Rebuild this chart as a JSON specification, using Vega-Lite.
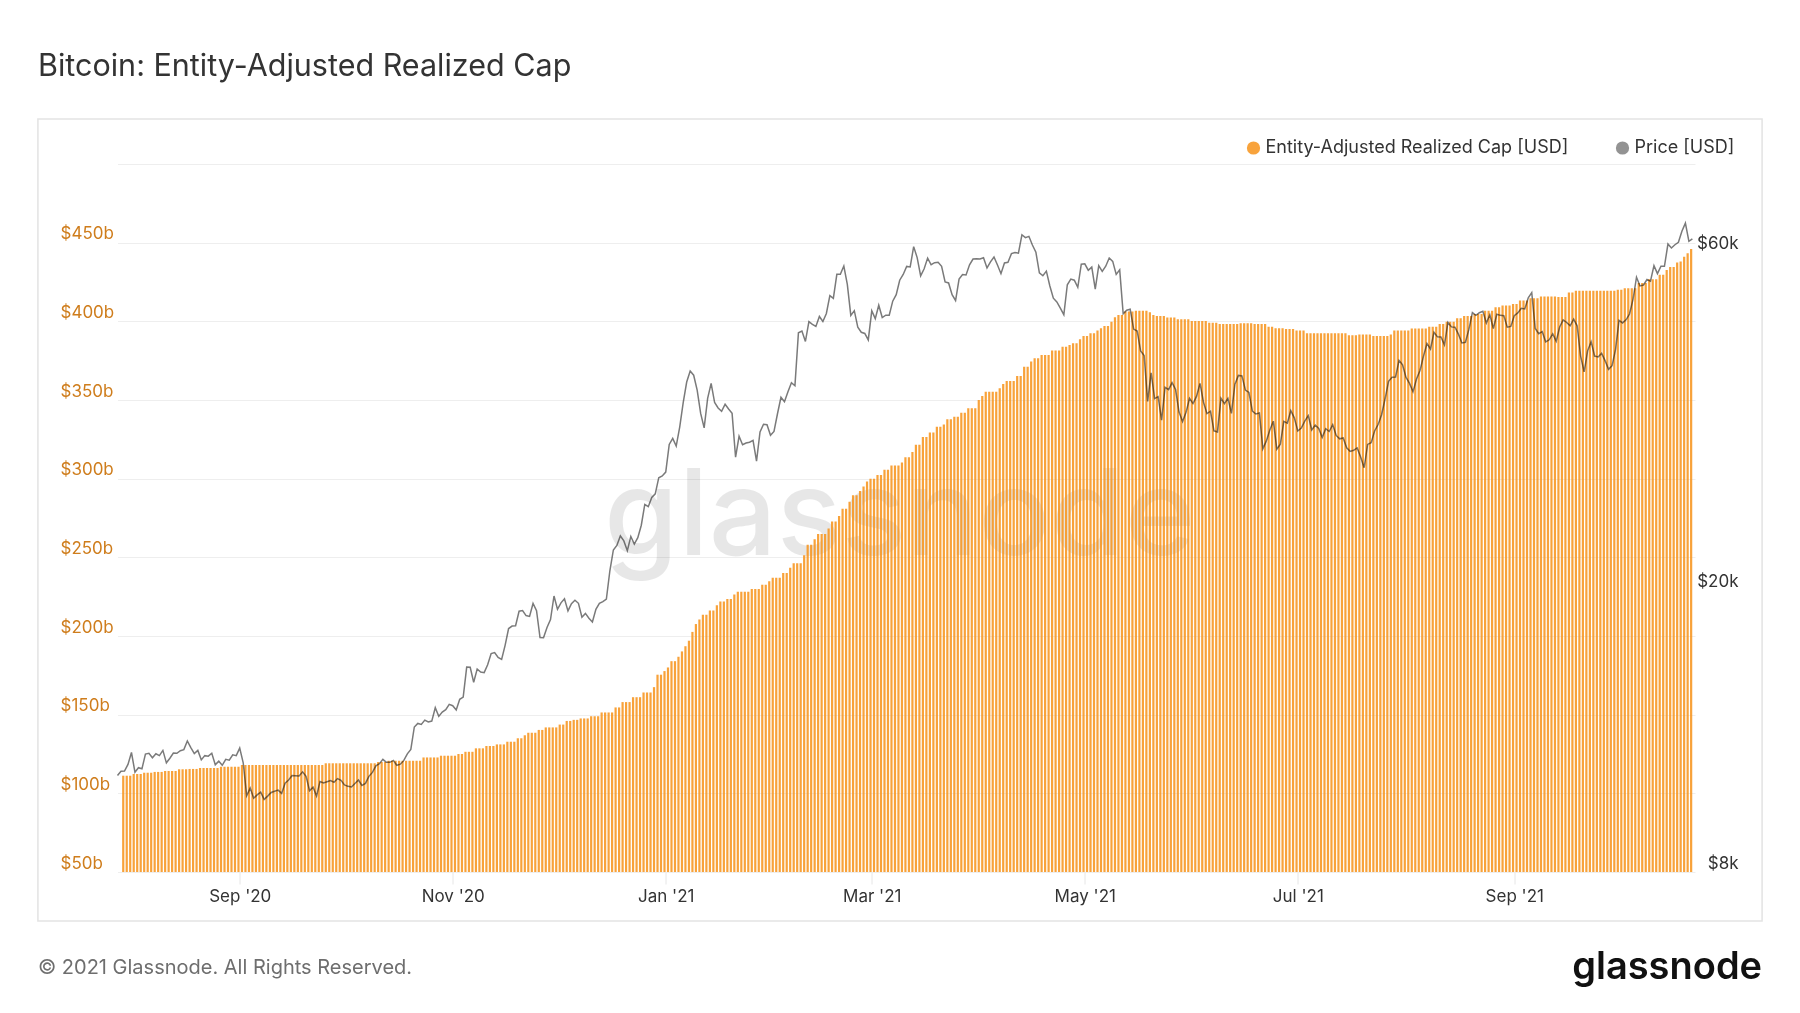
{
  "$schema": "https://vega.github.io/schema/vega-lite/v6.json",
  "autosize": {"type": "none"},
  "width": 1577.5,
  "height": 708,
  "padding": {"left": 117.5, "top": 164, "right": 105, "bottom": 141},
  "background": "white",
  "title": {
    "text": "Bitcoin: Entity-Adjusted Realized Cap",
    "anchor": "start",
    "frame": "group",
    "dx": -79.5,
    "offset": 12,
    "baseline": "alphabetic",
    "font": "Inter",
    "fontSize": 30.5,
    "fontWeight": 400,
    "color": "#333333"
  },
  "data": {
    "values": [
      {"date": "2020-07-28", "cap": null, "price": 10950},
      {"date": "2020-07-29", "cap": 111.2, "price": 11100},
      {"date": "2020-07-30", "cap": 111.2, "price": 11110},
      {"date": "2020-07-31", "cap": 111.2, "price": 11350},
      {"date": "2020-08-01", "cap": 112.3, "price": 11800},
      {"date": "2020-08-02", "cap": 112.3, "price": 11070},
      {"date": "2020-08-03", "cap": 112.3, "price": 11230},
      {"date": "2020-08-04", "cap": 113.1, "price": 11190},
      {"date": "2020-08-05", "cap": 113.1, "price": 11740},
      {"date": "2020-08-06", "cap": 113.1, "price": 11770},
      {"date": "2020-08-07", "cap": 113.6, "price": 11600},
      {"date": "2020-08-08", "cap": 113.6, "price": 11750},
      {"date": "2020-08-09", "cap": 113.6, "price": 11680},
      {"date": "2020-08-10", "cap": 114.2, "price": 11880},
      {"date": "2020-08-11", "cap": 114.2, "price": 11410},
      {"date": "2020-08-12", "cap": 114.2, "price": 11580},
      {"date": "2020-08-13", "cap": 114.2, "price": 11780},
      {"date": "2020-08-14", "cap": 115.3, "price": 11770},
      {"date": "2020-08-15", "cap": 115.3, "price": 11870},
      {"date": "2020-08-16", "cap": 115.3, "price": 11910},
      {"date": "2020-08-17", "cap": 115.5, "price": 12250},
      {"date": "2020-08-18", "cap": 115.5, "price": 11990},
      {"date": "2020-08-19", "cap": 115.5, "price": 11760},
      {"date": "2020-08-20", "cap": 116.1, "price": 11880},
      {"date": "2020-08-21", "cap": 116.1, "price": 11520},
      {"date": "2020-08-22", "cap": 116.1, "price": 11680},
      {"date": "2020-08-23", "cap": 116.1, "price": 11660},
      {"date": "2020-08-24", "cap": 116.1, "price": 11770},
      {"date": "2020-08-25", "cap": 116.1, "price": 11340},
      {"date": "2020-08-26", "cap": 116.9, "price": 11470},
      {"date": "2020-08-27", "cap": 116.9, "price": 11320},
      {"date": "2020-08-28", "cap": 116.9, "price": 11540},
      {"date": "2020-08-29", "cap": 116.9, "price": 11510},
      {"date": "2020-08-30", "cap": 116.9, "price": 11710},
      {"date": "2020-08-31", "cap": 116.9, "price": 11680},
      {"date": "2020-09-01", "cap": 118.0, "price": 11970},
      {"date": "2020-09-02", "cap": 118.0, "price": 11410},
      {"date": "2020-09-03", "cap": 118.0, "price": 10250},
      {"date": "2020-09-04", "cap": 118.0, "price": 10510},
      {"date": "2020-09-05", "cap": 118.0, "price": 10170},
      {"date": "2020-09-06", "cap": 118.0, "price": 10280},
      {"date": "2020-09-07", "cap": 118.0, "price": 10370},
      {"date": "2020-09-08", "cap": 118.0, "price": 10130},
      {"date": "2020-09-09", "cap": 118.0, "price": 10240},
      {"date": "2020-09-10", "cap": 118.0, "price": 10360},
      {"date": "2020-09-11", "cap": 118.0, "price": 10400},
      {"date": "2020-09-12", "cap": 118.0, "price": 10440},
      {"date": "2020-09-13", "cap": 118.0, "price": 10330},
      {"date": "2020-09-14", "cap": 118.0, "price": 10680},
      {"date": "2020-09-15", "cap": 118.0, "price": 10790},
      {"date": "2020-09-16", "cap": 118.0, "price": 10950},
      {"date": "2020-09-17", "cap": 118.0, "price": 10940},
      {"date": "2020-09-18", "cap": 118.0, "price": 10930},
      {"date": "2020-09-19", "cap": 118.0, "price": 11080},
      {"date": "2020-09-20", "cap": 118.0, "price": 10920},
      {"date": "2020-09-21", "cap": 118.0, "price": 10420},
      {"date": "2020-09-22", "cap": 118.0, "price": 10540},
      {"date": "2020-09-23", "cap": 118.0, "price": 10240},
      {"date": "2020-09-24", "cap": 118.0, "price": 10740},
      {"date": "2020-09-25", "cap": 119.1, "price": 10690},
      {"date": "2020-09-26", "cap": 119.1, "price": 10730},
      {"date": "2020-09-27", "cap": 119.1, "price": 10770},
      {"date": "2020-09-28", "cap": 119.1, "price": 10710},
      {"date": "2020-09-29", "cap": 119.1, "price": 10840},
      {"date": "2020-09-30", "cap": 119.1, "price": 10780},
      {"date": "2020-10-01", "cap": 119.1, "price": 10620},
      {"date": "2020-10-02", "cap": 119.1, "price": 10570},
      {"date": "2020-10-03", "cap": 119.1, "price": 10550},
      {"date": "2020-10-04", "cap": 119.1, "price": 10670},
      {"date": "2020-10-05", "cap": 119.1, "price": 10790},
      {"date": "2020-10-06", "cap": 119.1, "price": 10600},
      {"date": "2020-10-07", "cap": 119.1, "price": 10670},
      {"date": "2020-10-08", "cap": 119.1, "price": 10920},
      {"date": "2020-10-09", "cap": 119.1, "price": 11060},
      {"date": "2020-10-10", "cap": 119.9, "price": 11300},
      {"date": "2020-10-11", "cap": 119.9, "price": 11380},
      {"date": "2020-10-12", "cap": 119.9, "price": 11540},
      {"date": "2020-10-13", "cap": 120.7, "price": 11430},
      {"date": "2020-10-14", "cap": 120.7, "price": 11430},
      {"date": "2020-10-15", "cap": 120.7, "price": 11500},
      {"date": "2020-10-16", "cap": 120.7, "price": 11320},
      {"date": "2020-10-17", "cap": 120.7, "price": 11360},
      {"date": "2020-10-18", "cap": 120.7, "price": 11500},
      {"date": "2020-10-19", "cap": 120.7, "price": 11750},
      {"date": "2020-10-20", "cap": 120.7, "price": 11920},
      {"date": "2020-10-21", "cap": 120.7, "price": 12820},
      {"date": "2020-10-22", "cap": 120.7, "price": 12970},
      {"date": "2020-10-23", "cap": 122.8, "price": 12930},
      {"date": "2020-10-24", "cap": 122.8, "price": 13110},
      {"date": "2020-10-25", "cap": 122.8, "price": 13030},
      {"date": "2020-10-26", "cap": 122.8, "price": 13070},
      {"date": "2020-10-27", "cap": 122.8, "price": 13650},
      {"date": "2020-10-28", "cap": 123.9, "price": 13270},
      {"date": "2020-10-29", "cap": 123.9, "price": 13460},
      {"date": "2020-10-30", "cap": 123.9, "price": 13560},
      {"date": "2020-10-31", "cap": 123.9, "price": 13800},
      {"date": "2020-11-01", "cap": 123.9, "price": 13740},
      {"date": "2020-11-02", "cap": 125.0, "price": 13550},
      {"date": "2020-11-03", "cap": 125.0, "price": 14030},
      {"date": "2020-11-04", "cap": 126.4, "price": 14130},
      {"date": "2020-11-05", "cap": 126.4, "price": 15580},
      {"date": "2020-11-06", "cap": 126.4, "price": 15570},
      {"date": "2020-11-07", "cap": 128.6, "price": 14830},
      {"date": "2020-11-08", "cap": 128.6, "price": 15480},
      {"date": "2020-11-09", "cap": 128.6, "price": 15330},
      {"date": "2020-11-10", "cap": 130.1, "price": 15300},
      {"date": "2020-11-11", "cap": 130.1, "price": 15700},
      {"date": "2020-11-12", "cap": 130.1, "price": 16280},
      {"date": "2020-11-13", "cap": 131.1, "price": 16330},
      {"date": "2020-11-14", "cap": 131.1, "price": 16070},
      {"date": "2020-11-15", "cap": 131.1, "price": 15970},
      {"date": "2020-11-16", "cap": 132.8, "price": 16720},
      {"date": "2020-11-17", "cap": 132.8, "price": 17660},
      {"date": "2020-11-18", "cap": 132.8, "price": 17800},
      {"date": "2020-11-19", "cap": 135.0, "price": 17820},
      {"date": "2020-11-20", "cap": 135.0, "price": 18680},
      {"date": "2020-11-21", "cap": 136.9, "price": 18720},
      {"date": "2020-11-22", "cap": 138.5, "price": 18420},
      {"date": "2020-11-23", "cap": 138.5, "price": 18370},
      {"date": "2020-11-24", "cap": 138.5, "price": 19160},
      {"date": "2020-11-25", "cap": 140.3, "price": 18720},
      {"date": "2020-11-26", "cap": 140.3, "price": 17150},
      {"date": "2020-11-27", "cap": 141.9, "price": 17140},
      {"date": "2020-11-28", "cap": 141.9, "price": 17720},
      {"date": "2020-11-29", "cap": 141.9, "price": 18180},
      {"date": "2020-11-30", "cap": 141.9, "price": 19630},
      {"date": "2020-12-01", "cap": 143.7, "price": 18800},
      {"date": "2020-12-02", "cap": 143.7, "price": 19200},
      {"date": "2020-12-03", "cap": 146.0, "price": 19450},
      {"date": "2020-12-04", "cap": 146.0, "price": 18700},
      {"date": "2020-12-05", "cap": 146.7, "price": 19150},
      {"date": "2020-12-06", "cap": 146.7, "price": 19360},
      {"date": "2020-12-07", "cap": 147.6, "price": 19170},
      {"date": "2020-12-08", "cap": 147.6, "price": 18320},
      {"date": "2020-12-09", "cap": 147.6, "price": 18550},
      {"date": "2020-12-10", "cap": 149.0, "price": 18260},
      {"date": "2020-12-11", "cap": 149.0, "price": 18040},
      {"date": "2020-12-12", "cap": 149.0, "price": 18800},
      {"date": "2020-12-13", "cap": 151.4, "price": 19170},
      {"date": "2020-12-14", "cap": 151.4, "price": 19270},
      {"date": "2020-12-15", "cap": 151.4, "price": 19430},
      {"date": "2020-12-16", "cap": 151.4, "price": 21310},
      {"date": "2020-12-17", "cap": 154.6, "price": 22800},
      {"date": "2020-12-18", "cap": 154.6, "price": 23140},
      {"date": "2020-12-19", "cap": 158.0, "price": 23870},
      {"date": "2020-12-20", "cap": 158.0, "price": 23480},
      {"date": "2020-12-21", "cap": 158.0, "price": 22750},
      {"date": "2020-12-22", "cap": 161.1, "price": 23820},
      {"date": "2020-12-23", "cap": 161.1, "price": 23240},
      {"date": "2020-12-24", "cap": 161.1, "price": 23730},
      {"date": "2020-12-25", "cap": 164.1, "price": 24710},
      {"date": "2020-12-26", "cap": 164.1, "price": 26440},
      {"date": "2020-12-27", "cap": 164.1, "price": 26250},
      {"date": "2020-12-28", "cap": 167.5, "price": 27040},
      {"date": "2020-12-29", "cap": 175.4, "price": 27370},
      {"date": "2020-12-30", "cap": 175.4, "price": 28840},
      {"date": "2020-12-31", "cap": 177.7, "price": 29000},
      {"date": "2021-01-01", "cap": 180.0, "price": 29370},
      {"date": "2021-01-02", "cap": 184.0, "price": 32130},
      {"date": "2021-01-03", "cap": 184.0, "price": 32780},
      {"date": "2021-01-04", "cap": 186.8, "price": 31970},
      {"date": "2021-01-05", "cap": 190.2, "price": 34000},
      {"date": "2021-01-06", "cap": 193.5, "price": 36820},
      {"date": "2021-01-07", "cap": 197.0, "price": 39370},
      {"date": "2021-01-08", "cap": 202.6, "price": 40800},
      {"date": "2021-01-09", "cap": 207.6, "price": 40250},
      {"date": "2021-01-10", "cap": 210.5, "price": 38350},
      {"date": "2021-01-11", "cap": 213.5, "price": 35540},
      {"date": "2021-01-12", "cap": 213.5, "price": 33920},
      {"date": "2021-01-13", "cap": 216.2, "price": 37320},
      {"date": "2021-01-14", "cap": 216.2, "price": 39190},
      {"date": "2021-01-15", "cap": 219.6, "price": 36830},
      {"date": "2021-01-16", "cap": 221.9, "price": 36180},
      {"date": "2021-01-17", "cap": 221.9, "price": 35790},
      {"date": "2021-01-18", "cap": 223.5, "price": 36630},
      {"date": "2021-01-19", "cap": 223.5, "price": 36070},
      {"date": "2021-01-20", "cap": 226.4, "price": 35550},
      {"date": "2021-01-21", "cap": 228.2, "price": 30830},
      {"date": "2021-01-22", "cap": 228.2, "price": 33000},
      {"date": "2021-01-23", "cap": 228.2, "price": 32100},
      {"date": "2021-01-24", "cap": 228.2, "price": 32290},
      {"date": "2021-01-25", "cap": 229.8, "price": 32370},
      {"date": "2021-01-26", "cap": 229.8, "price": 32570},
      {"date": "2021-01-27", "cap": 229.8, "price": 30430},
      {"date": "2021-01-28", "cap": 232.5, "price": 33470},
      {"date": "2021-01-29", "cap": 232.5, "price": 34320},
      {"date": "2021-01-30", "cap": 234.8, "price": 34270},
      {"date": "2021-01-31", "cap": 237.0, "price": 33110},
      {"date": "2021-02-01", "cap": 237.0, "price": 33520},
      {"date": "2021-02-02", "cap": 237.0, "price": 35510},
      {"date": "2021-02-03", "cap": 240.0, "price": 37470},
      {"date": "2021-02-04", "cap": 240.0, "price": 36930},
      {"date": "2021-02-05", "cap": 243.4, "price": 38140},
      {"date": "2021-02-06", "cap": 246.3, "price": 39270},
      {"date": "2021-02-07", "cap": 246.3, "price": 38900},
      {"date": "2021-02-08", "cap": 246.3, "price": 46200},
      {"date": "2021-02-09", "cap": 251.3, "price": 46480},
      {"date": "2021-02-10", "cap": 258.0, "price": 44920},
      {"date": "2021-02-11", "cap": 258.0, "price": 47910},
      {"date": "2021-02-12", "cap": 261.5, "price": 47500},
      {"date": "2021-02-13", "cap": 264.9, "price": 47170},
      {"date": "2021-02-14", "cap": 264.9, "price": 48720},
      {"date": "2021-02-15", "cap": 264.9, "price": 47940},
      {"date": "2021-02-16", "cap": 268.3, "price": 49200},
      {"date": "2021-02-17", "cap": 272.8, "price": 52150},
      {"date": "2021-02-18", "cap": 272.8, "price": 51680},
      {"date": "2021-02-19", "cap": 276.2, "price": 55890},
      {"date": "2021-02-20", "cap": 280.8, "price": 55890},
      {"date": "2021-02-21", "cap": 280.8, "price": 57410},
      {"date": "2021-02-22", "cap": 285.3, "price": 54090},
      {"date": "2021-02-23", "cap": 289.4, "price": 48890},
      {"date": "2021-02-24", "cap": 289.4, "price": 49650},
      {"date": "2021-02-25", "cap": 292.1, "price": 47050},
      {"date": "2021-02-26", "cap": 295.0, "price": 46280},
      {"date": "2021-02-27", "cap": 298.2, "price": 46110},
      {"date": "2021-02-28", "cap": 300.0, "price": 45140},
      {"date": "2021-03-01", "cap": 300.0, "price": 49630},
      {"date": "2021-03-02", "cap": 302.3, "price": 48380},
      {"date": "2021-03-03", "cap": 302.3, "price": 50540},
      {"date": "2021-03-04", "cap": 305.7, "price": 48560},
      {"date": "2021-03-05", "cap": 305.7, "price": 48930},
      {"date": "2021-03-06", "cap": 308.4, "price": 48910},
      {"date": "2021-03-07", "cap": 308.4, "price": 51210},
      {"date": "2021-03-08", "cap": 308.4, "price": 52300},
      {"date": "2021-03-09", "cap": 310.2, "price": 54820},
      {"date": "2021-03-10", "cap": 313.6, "price": 55860},
      {"date": "2021-03-11", "cap": 313.6, "price": 57330},
      {"date": "2021-03-12", "cap": 317.0, "price": 57230},
      {"date": "2021-03-13", "cap": 321.5, "price": 61150},
      {"date": "2021-03-14", "cap": 321.5, "price": 59000},
      {"date": "2021-03-15", "cap": 326.5, "price": 55600},
      {"date": "2021-03-16", "cap": 326.5, "price": 56900},
      {"date": "2021-03-17", "cap": 329.4, "price": 58910},
      {"date": "2021-03-18", "cap": 329.4, "price": 57650},
      {"date": "2021-03-19", "cap": 333.0, "price": 58030},
      {"date": "2021-03-20", "cap": 333.0, "price": 58100},
      {"date": "2021-03-21", "cap": 334.5, "price": 57350},
      {"date": "2021-03-22", "cap": 337.7, "price": 54530},
      {"date": "2021-03-23", "cap": 337.7, "price": 54340},
      {"date": "2021-03-24", "cap": 339.4, "price": 52300},
      {"date": "2021-03-25", "cap": 339.4, "price": 51320},
      {"date": "2021-03-26", "cap": 341.9, "price": 55030},
      {"date": "2021-03-27", "cap": 341.9, "price": 55860},
      {"date": "2021-03-28", "cap": 344.7, "price": 55780},
      {"date": "2021-03-29", "cap": 344.7, "price": 57630},
      {"date": "2021-03-30", "cap": 344.7, "price": 58730},
      {"date": "2021-03-31", "cap": 350.0, "price": 58800},
      {"date": "2021-04-01", "cap": 352.6, "price": 58730},
      {"date": "2021-04-02", "cap": 355.3, "price": 58970},
      {"date": "2021-04-03", "cap": 355.3, "price": 57060},
      {"date": "2021-04-04", "cap": 355.3, "price": 58200},
      {"date": "2021-04-05", "cap": 355.3, "price": 59120},
      {"date": "2021-04-06", "cap": 357.5, "price": 57600},
      {"date": "2021-04-07", "cap": 360.2, "price": 56000},
      {"date": "2021-04-08", "cap": 362.1, "price": 57990},
      {"date": "2021-04-09", "cap": 362.1, "price": 58100},
      {"date": "2021-04-10", "cap": 362.1, "price": 59770},
      {"date": "2021-04-11", "cap": 365.3, "price": 60000},
      {"date": "2021-04-12", "cap": 365.3, "price": 59860},
      {"date": "2021-04-13", "cap": 371.2, "price": 63550},
      {"date": "2021-04-14", "cap": 371.2, "price": 62970},
      {"date": "2021-04-15", "cap": 374.4, "price": 63230},
      {"date": "2021-04-16", "cap": 376.5, "price": 61460},
      {"date": "2021-04-17", "cap": 376.5, "price": 60050},
      {"date": "2021-04-18", "cap": 378.6, "price": 56150},
      {"date": "2021-04-19", "cap": 378.6, "price": 55630},
      {"date": "2021-04-20", "cap": 378.6, "price": 56470},
      {"date": "2021-04-21", "cap": 381.4, "price": 53800},
      {"date": "2021-04-22", "cap": 381.4, "price": 51700},
      {"date": "2021-04-23", "cap": 381.4, "price": 51090},
      {"date": "2021-04-24", "cap": 383.9, "price": 50050},
      {"date": "2021-04-25", "cap": 383.9, "price": 49000},
      {"date": "2021-04-26", "cap": 385.0, "price": 54020},
      {"date": "2021-04-27", "cap": 386.0, "price": 55030},
      {"date": "2021-04-28", "cap": 386.0, "price": 54820},
      {"date": "2021-04-29", "cap": 388.6, "price": 53560},
      {"date": "2021-04-30", "cap": 390.7, "price": 57750},
      {"date": "2021-05-01", "cap": 390.7, "price": 57830},
      {"date": "2021-05-02", "cap": 392.4, "price": 56630},
      {"date": "2021-05-03", "cap": 392.4, "price": 57210},
      {"date": "2021-05-04", "cap": 394.1, "price": 53240},
      {"date": "2021-05-05", "cap": 395.6, "price": 57470},
      {"date": "2021-05-06", "cap": 397.0, "price": 56430},
      {"date": "2021-05-07", "cap": 397.0, "price": 57380},
      {"date": "2021-05-08", "cap": 399.8, "price": 58930},
      {"date": "2021-05-09", "cap": 402.6, "price": 58280},
      {"date": "2021-05-10", "cap": 404.1, "price": 55860},
      {"date": "2021-05-11", "cap": 404.1, "price": 56700},
      {"date": "2021-05-12", "cap": 406.2, "price": 49150},
      {"date": "2021-05-13", "cap": 406.2, "price": 49720},
      {"date": "2021-05-14", "cap": 406.2, "price": 49880},
      {"date": "2021-05-15", "cap": 406.8, "price": 46760},
      {"date": "2021-05-16", "cap": 406.8, "price": 46460},
      {"date": "2021-05-17", "cap": 406.8, "price": 43540},
      {"date": "2021-05-18", "cap": 406.8, "price": 42910},
      {"date": "2021-05-19", "cap": 405.8, "price": 36960},
      {"date": "2021-05-20", "cap": 404.1, "price": 40560},
      {"date": "2021-05-21", "cap": 403.4, "price": 37300},
      {"date": "2021-05-22", "cap": 403.4, "price": 37540},
      {"date": "2021-05-23", "cap": 403.4, "price": 34770},
      {"date": "2021-05-24", "cap": 402.4, "price": 38700},
      {"date": "2021-05-25", "cap": 402.4, "price": 38400},
      {"date": "2021-05-26", "cap": 402.4, "price": 39290},
      {"date": "2021-05-27", "cap": 401.3, "price": 38440},
      {"date": "2021-05-28", "cap": 401.3, "price": 35700},
      {"date": "2021-05-29", "cap": 401.3, "price": 34620},
      {"date": "2021-05-30", "cap": 401.3, "price": 35680},
      {"date": "2021-05-31", "cap": 400.2, "price": 37340},
      {"date": "2021-06-01", "cap": 400.2, "price": 36700},
      {"date": "2021-06-02", "cap": 400.2, "price": 37570},
      {"date": "2021-06-03", "cap": 400.2, "price": 39190},
      {"date": "2021-06-04", "cap": 400.2, "price": 36850},
      {"date": "2021-06-05", "cap": 399.1, "price": 35520},
      {"date": "2021-06-06", "cap": 399.1, "price": 35800},
      {"date": "2021-06-07", "cap": 399.1, "price": 33590},
      {"date": "2021-06-08", "cap": 398.3, "price": 33470},
      {"date": "2021-06-09", "cap": 398.3, "price": 37350},
      {"date": "2021-06-10", "cap": 398.3, "price": 36690},
      {"date": "2021-06-11", "cap": 398.3, "price": 37340},
      {"date": "2021-06-12", "cap": 398.3, "price": 35550},
      {"date": "2021-06-13", "cap": 398.3, "price": 39100},
      {"date": "2021-06-14", "cap": 398.8, "price": 40220},
      {"date": "2021-06-15", "cap": 398.8, "price": 40160},
      {"date": "2021-06-16", "cap": 398.8, "price": 38350},
      {"date": "2021-06-17", "cap": 398.8, "price": 38050},
      {"date": "2021-06-18", "cap": 398.3, "price": 35820},
      {"date": "2021-06-19", "cap": 398.3, "price": 35480},
      {"date": "2021-06-20", "cap": 398.3, "price": 35600},
      {"date": "2021-06-21", "cap": 398.3, "price": 31680},
      {"date": "2021-06-22", "cap": 396.6, "price": 32510},
      {"date": "2021-06-23", "cap": 396.6, "price": 33680},
      {"date": "2021-06-24", "cap": 395.6, "price": 34660},
      {"date": "2021-06-25", "cap": 395.6, "price": 31640},
      {"date": "2021-06-26", "cap": 395.6, "price": 32160},
      {"date": "2021-06-27", "cap": 395.2, "price": 34640},
      {"date": "2021-06-28", "cap": 395.2, "price": 34430},
      {"date": "2021-06-29", "cap": 395.2, "price": 35870},
      {"date": "2021-06-30", "cap": 394.1, "price": 35040},
      {"date": "2021-07-01", "cap": 394.1, "price": 33570},
      {"date": "2021-07-02", "cap": 394.1, "price": 33900},
      {"date": "2021-07-03", "cap": 392.4, "price": 34660},
      {"date": "2021-07-04", "cap": 392.4, "price": 35290},
      {"date": "2021-07-05", "cap": 392.4, "price": 33690},
      {"date": "2021-07-06", "cap": 392.4, "price": 34220},
      {"date": "2021-07-07", "cap": 392.4, "price": 33860},
      {"date": "2021-07-08", "cap": 392.4, "price": 32880},
      {"date": "2021-07-09", "cap": 392.4, "price": 33820},
      {"date": "2021-07-10", "cap": 392.4, "price": 33520},
      {"date": "2021-07-11", "cap": 392.4, "price": 34260},
      {"date": "2021-07-12", "cap": 392.4, "price": 33090},
      {"date": "2021-07-13", "cap": 392.4, "price": 32730},
      {"date": "2021-07-14", "cap": 392.4, "price": 32820},
      {"date": "2021-07-15", "cap": 391.1, "price": 31780},
      {"date": "2021-07-16", "cap": 391.1, "price": 31420},
      {"date": "2021-07-17", "cap": 391.1, "price": 31530},
      {"date": "2021-07-18", "cap": 391.7, "price": 31780},
      {"date": "2021-07-19", "cap": 391.7, "price": 30840},
      {"date": "2021-07-20", "cap": 391.7, "price": 29790},
      {"date": "2021-07-21", "cap": 391.7, "price": 32140},
      {"date": "2021-07-22", "cap": 390.7, "price": 32310},
      {"date": "2021-07-23", "cap": 390.7, "price": 33580},
      {"date": "2021-07-24", "cap": 390.7, "price": 34290},
      {"date": "2021-07-25", "cap": 390.7, "price": 35390},
      {"date": "2021-07-26", "cap": 390.7, "price": 37280},
      {"date": "2021-07-27", "cap": 391.7, "price": 39460},
      {"date": "2021-07-28", "cap": 394.1, "price": 39990},
      {"date": "2021-07-29", "cap": 394.1, "price": 40020},
      {"date": "2021-07-30", "cap": 394.1, "price": 42240},
      {"date": "2021-07-31", "cap": 394.1, "price": 41630},
      {"date": "2021-08-01", "cap": 394.1, "price": 39970},
      {"date": "2021-08-02", "cap": 395.4, "price": 39200},
      {"date": "2021-08-03", "cap": 395.4, "price": 38150},
      {"date": "2021-08-04", "cap": 395.4, "price": 39750},
      {"date": "2021-08-05", "cap": 395.4, "price": 40870},
      {"date": "2021-08-06", "cap": 395.4, "price": 42830},
      {"date": "2021-08-07", "cap": 396.6, "price": 44610},
      {"date": "2021-08-08", "cap": 396.6, "price": 43830},
      {"date": "2021-08-09", "cap": 396.6, "price": 46290},
      {"date": "2021-08-10", "cap": 398.3, "price": 45600},
      {"date": "2021-08-11", "cap": 398.3, "price": 45590},
      {"date": "2021-08-12", "cap": 399.8, "price": 44430},
      {"date": "2021-08-13", "cap": 399.8, "price": 47790},
      {"date": "2021-08-14", "cap": 399.8, "price": 47100},
      {"date": "2021-08-15", "cap": 401.9, "price": 47050},
      {"date": "2021-08-16", "cap": 401.9, "price": 46000},
      {"date": "2021-08-17", "cap": 403.4, "price": 44700},
      {"date": "2021-08-18", "cap": 403.4, "price": 44800},
      {"date": "2021-08-19", "cap": 403.4, "price": 46720},
      {"date": "2021-08-20", "cap": 404.7, "price": 49340},
      {"date": "2021-08-21", "cap": 404.7, "price": 48900},
      {"date": "2021-08-22", "cap": 404.7, "price": 49320},
      {"date": "2021-08-23", "cap": 406.8, "price": 49550},
      {"date": "2021-08-24", "cap": 406.8, "price": 47710},
      {"date": "2021-08-25", "cap": 406.8, "price": 48990},
      {"date": "2021-08-26", "cap": 409.0, "price": 46850},
      {"date": "2021-08-27", "cap": 409.0, "price": 49070},
      {"date": "2021-08-28", "cap": 410.0, "price": 48900},
      {"date": "2021-08-29", "cap": 410.0, "price": 48830},
      {"date": "2021-08-30", "cap": 410.0, "price": 47050},
      {"date": "2021-08-31", "cap": 411.0, "price": 47170},
      {"date": "2021-09-01", "cap": 411.0, "price": 48850},
      {"date": "2021-09-02", "cap": 413.2, "price": 49290},
      {"date": "2021-09-03", "cap": 413.2, "price": 50030},
      {"date": "2021-09-04", "cap": 413.2, "price": 49940},
      {"date": "2021-09-05", "cap": 414.7, "price": 51770},
      {"date": "2021-09-06", "cap": 414.7, "price": 52660},
      {"date": "2021-09-07", "cap": 414.7, "price": 46860},
      {"date": "2021-09-08", "cap": 415.8, "price": 46070},
      {"date": "2021-09-09", "cap": 415.8, "price": 46370},
      {"date": "2021-09-10", "cap": 415.8, "price": 44850},
      {"date": "2021-09-11", "cap": 415.8, "price": 45160},
      {"date": "2021-09-12", "cap": 415.8, "price": 46060},
      {"date": "2021-09-13", "cap": 415.4, "price": 44960},
      {"date": "2021-09-14", "cap": 415.4, "price": 47090},
      {"date": "2021-09-15", "cap": 415.4, "price": 48180},
      {"date": "2021-09-16", "cap": 418.3, "price": 47780},
      {"date": "2021-09-17", "cap": 418.3, "price": 47260},
      {"date": "2021-09-18", "cap": 419.4, "price": 48290},
      {"date": "2021-09-19", "cap": 419.4, "price": 47260},
      {"date": "2021-09-20", "cap": 419.4, "price": 42840},
      {"date": "2021-09-21", "cap": 419.4, "price": 40690},
      {"date": "2021-09-22", "cap": 419.4, "price": 43570},
      {"date": "2021-09-23", "cap": 419.4, "price": 44890},
      {"date": "2021-09-24", "cap": 419.4, "price": 42840},
      {"date": "2021-09-25", "cap": 419.4, "price": 42710},
      {"date": "2021-09-26", "cap": 419.4, "price": 43210},
      {"date": "2021-09-27", "cap": 419.4, "price": 42200},
      {"date": "2021-09-28", "cap": 419.4, "price": 41030},
      {"date": "2021-09-29", "cap": 419.4, "price": 41520},
      {"date": "2021-09-30", "cap": 420.0, "price": 43790},
      {"date": "2021-10-01", "cap": 420.0, "price": 48120},
      {"date": "2021-10-02", "cap": 421.1, "price": 47710},
      {"date": "2021-10-03", "cap": 421.1, "price": 48200},
      {"date": "2021-10-04", "cap": 421.1, "price": 49110},
      {"date": "2021-10-05", "cap": 421.1, "price": 51510},
      {"date": "2021-10-06", "cap": 424.3, "price": 55360},
      {"date": "2021-10-07", "cap": 424.3, "price": 53810},
      {"date": "2021-10-08", "cap": 424.3, "price": 53970},
      {"date": "2021-10-09", "cap": 426.8, "price": 54950},
      {"date": "2021-10-10", "cap": 426.8, "price": 54660},
      {"date": "2021-10-11", "cap": 426.8, "price": 57470},
      {"date": "2021-10-12", "cap": 429.6, "price": 56010},
      {"date": "2021-10-13", "cap": 429.6, "price": 57370},
      {"date": "2021-10-14", "cap": 432.7, "price": 57350},
      {"date": "2021-10-15", "cap": 434.5, "price": 61670},
      {"date": "2021-10-16", "cap": 434.5, "price": 60880},
      {"date": "2021-10-17", "cap": 437.4, "price": 61530},
      {"date": "2021-10-18", "cap": 438.0, "price": 62010},
      {"date": "2021-10-19", "cap": 441.1, "price": 64280},
      {"date": "2021-10-20", "cap": 443.2, "price": 66000},
      {"date": "2021-10-21", "cap": 445.9, "price": 62210},
      {"date": "2021-10-22", "cap": null, "price": 62700}
    ]
  },
  "layer": [
    {
      "layer": [
        {
          "data": {"values": [{"t": "frame"}]},
          "mark": {"type": "rect", "filled": false, "stroke": "#e3e3e3", "strokeWidth": 1.5},
          "encoding": {
            "x": {
              "datum": {"year": 2020, "month": 7, "date": 5, "hours": 5, "utc": true},
              "type": "temporal",
              "title": null,
              "scale": {"type": "utc", "domain": [{"year": 2020, "month": 7, "date": 28, "utc": true}, {"year": 2021, "month": 10, "date": 22, "hours": 18, "utc": true}]}
            },
            "x2": {"datum": {"year": 2021, "month": 11, "date": 10, "hours": 23, "utc": true}},
            "y": {"datum": 528.6, "type": "quantitative", "title": null, "scale": {"domain": [50, 500], "zero": false, "nice": false}},
            "y2": {"datum": 18.9}
          }
        },
        {
          "data": {"values": [{"t": "glassnode"}]},
          "mark": {"type": "text", "font": "Inter", "fontSize": 120, "fontWeight": 500, "fill": "#000000", "opacity": 0.09, "align": "center", "baseline": "alphabetic"},
          "encoding": {
            "x": {
              "datum": {"year": 2021, "month": 3, "date": 9, "utc": true},
              "type": "temporal",
              "title": null,
              "scale": {"type": "utc", "domain": [{"year": 2020, "month": 7, "date": 28, "utc": true}, {"year": 2021, "month": 10, "date": 22, "hours": 18, "utc": true}]}
            },
            "y": {"datum": 251.5, "type": "quantitative", "title": null, "scale": {"domain": [50, 500], "zero": false, "nice": false}},
            "text": {"field": "t"}
          }
        },
        {
          "mark": {"type": "bar", "opacity": 0.86, "width": {"band": 0.92}},
          "encoding": {
            "x": {
              "field": "date",
              "timeUnit": "utcyearmonthdate",
              "type": "temporal",
              "title": null,
              "scale": {"type": "utc", "domain": [{"year": 2020, "month": 7, "date": 28, "utc": true}, {"year": 2021, "month": 10, "date": 22, "hours": 18, "utc": true}]},
              "axis": {
                "values": [
                  {"year": 2020, "month": 9, "date": 1, "utc": true},
                  {"year": 2020, "month": 11, "date": 1, "utc": true},
                  {"year": 2021, "month": 1, "date": 1, "utc": true},
                  {"year": 2021, "month": 3, "date": 1, "utc": true},
                  {"year": 2021, "month": 5, "date": 1, "utc": true},
                  {"year": 2021, "month": 7, "date": 1, "utc": true},
                  {"year": 2021, "month": 9, "date": 1, "utc": true}
                ],
                "labelExpr": "utcFormat(datum.value, \"%b '%y\")",
                "domain": false,
                "grid": false,
                "ticks": true,
                "tickColor": "#e6e6e6",
                "tickSize": 12,
                "labelPadding": 4,
                "labelFont": "Inter",
                "labelFontSize": 17,
                "labelColor": "#333333"
              }
            },
            "y": {
              "field": "cap",
              "type": "quantitative",
              "title": null,
              "scale": {"domain": [50, 500], "zero": false, "nice": false},
              "axis": {
                "values": [50, 100, 150, 200, 250, 300, 350, 400, 450, 500],
                "labelExpr": "datum.value >= 500 ? '' : '$' + datum.value + 'b'",
                "domain": false,
                "ticks": false,
                "grid": true,
                "gridColor": "#eeeeee",
                "gridWidth": 1,
                "labelAlign": "left",
                "labelPadding": 57.5,
                "labelBaseline": "alphabetic",
                "labelOffset": -4,
                "labelFont": "Inter",
                "labelFontSize": 17,
                "labelColor": "#cf7d1c"
              }
            },
            "y2": {"datum": 50},
            "color": {
              "datum": "Entity-Adjusted Realized Cap [USD]",
              "type": "nominal",
              "scale": {"domain": ["Entity-Adjusted Realized Cap [USD]", "Price [USD]"], "range": ["#F7931A", "#808080"]},
              "legend": {
                "orient": "none",
                "legendX": 1127,
                "legendY": -25,
                "direction": "horizontal",
                "title": null,
                "padding": 0,
                "symbolType": "circle",
                "symbolSize": 175,
                "symbolStrokeWidth": 0,
                "symbolOpacity": 0.85,
                "labelOffset": 3,
                "labelLimit": 0,
                "columnPadding": 45,
                "labelFont": "Inter",
                "labelFontSize": 18,
                "labelColor": "#333333"
              }
            }
          }
        },
        {
          "data": {"values": [{"t": "© 2021 Glassnode. All Rights Reserved."}]},
          "mark": {"type": "text", "font": "Inter", "fontSize": 20, "fill": "#6e6e6e", "align": "left", "baseline": "middle"},
          "encoding": {
            "x": {
              "datum": {"year": 2020, "month": 7, "date": 5, "hours": 5, "utc": true},
              "type": "temporal",
              "title": null,
              "scale": {"type": "utc", "domain": [{"year": 2020, "month": 7, "date": 28, "utc": true}, {"year": 2021, "month": 10, "date": 22, "hours": 18, "utc": true}]}
            },
            "y": {"datum": -11, "type": "quantitative", "title": null, "scale": {"domain": [50, 500], "zero": false, "nice": false}},
            "text": {"field": "t"}
          }
        },
        {
          "data": {"values": [{"t": "glassnode"}]},
          "mark": {"type": "text", "font": "Inter", "fontSize": 38, "fontWeight": 600, "fill": "#111111", "align": "right", "baseline": "middle"},
          "encoding": {
            "x": {
              "datum": {"year": 2021, "month": 11, "date": 10, "hours": 23, "utc": true},
              "type": "temporal",
              "title": null,
              "scale": {"type": "utc", "domain": [{"year": 2020, "month": 7, "date": 28, "utc": true}, {"year": 2021, "month": 10, "date": 22, "hours": 18, "utc": true}]}
            },
            "y": {"datum": -11, "type": "quantitative", "title": null, "scale": {"domain": [50, 500], "zero": false, "nice": false}},
            "text": {"field": "t"}
          }
        }
      ]
    },
    {
      "mark": {"type": "line", "stroke": "#7a7a7a", "strokeWidth": 1.5, "blend": "multiply"},
      "encoding": {
        "x": {
          "field": "date",
          "type": "temporal",
          "title": null,
          "scale": {"type": "utc", "domain": [{"year": 2020, "month": 7, "date": 28, "utc": true}, {"year": 2021, "month": 10, "date": 22, "hours": 18, "utc": true}]}
        },
        "y": {
          "field": "price",
          "type": "quantitative",
          "title": null,
          "scale": {"type": "log", "domain": [8000, 80000], "nice": false},
          "axis": {
            "orient": "right",
            "values": [8000, 20000, 60000],
            "labelExpr": "'$' + (datum.value / 1000) + 'k'",
            "domain": false,
            "ticks": false,
            "grid": false,
            "labelAlign": "right",
            "labelPadding": 43,
            "labelBaseline": "alphabetic",
            "labelOffset": -4,
            "labelFont": "Inter",
            "labelFontSize": 17,
            "labelColor": "#333333"
          }
        }
      }
    }
  ],
  "resolve": {"scale": {"y": "independent"}, "axis": {"y": "independent"}},
  "config": {
    "font": "Inter",
    "view": {"stroke": null}
  }
}
